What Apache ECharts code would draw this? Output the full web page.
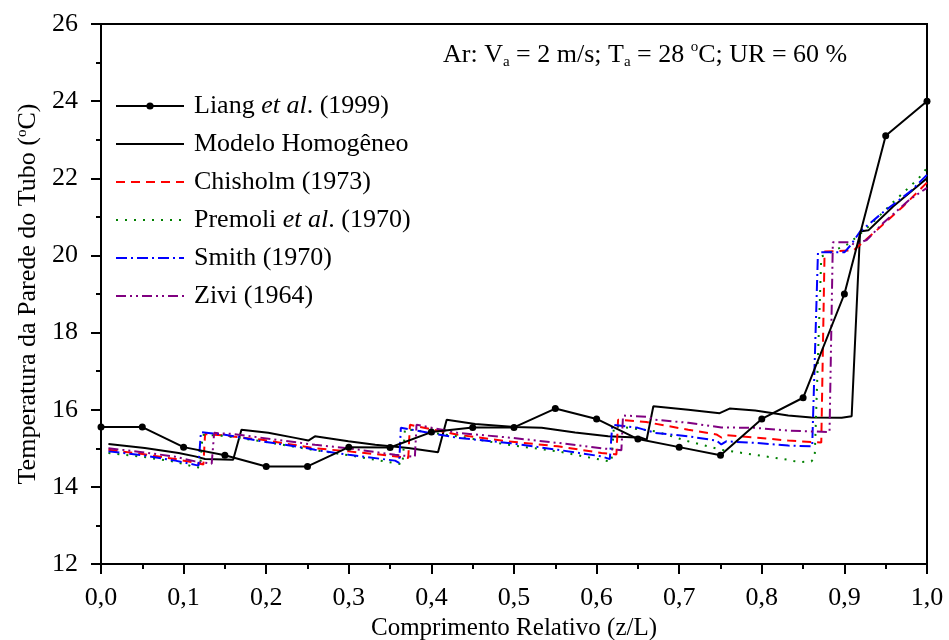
<!DOCTYPE html>
<html>
<head>
<meta charset="utf-8">
<script src="https://cdn.jsdelivr.net/npm/echarts@6/dist/echarts.min.js"></script>
<style>html,body{margin:0;padding:0;background:#fff}#c{width:949px;height:640px}</style>
</head>
<body>
<div id="c"></div>
<script>
// ---- data ----
const xTicks = [0,0.1,0.2,0.3,0.4,0.5,0.6,0.7,0.8,0.9,1.0];
const yTicks = [12,14,16,18,20,22,24,26];

const liangX = [0,0.05,0.1,0.15,0.2,0.25,0.3,0.35,0.4,0.45,0.5,0.55,0.6,0.65,0.7,0.75,0.8,0.85,0.9,0.95,1.0];
const liangY = [15.55,15.55,15.03,14.82,14.53,14.53,15.03,15.02,15.42,15.54,15.54,16.03,15.76,15.24,15.03,14.82,15.76,16.31,19.0,23.1,24.0];

const homoX = [0.009,0.053,0.094,0.114,0.126,0.160,0.170,0.2025,0.235,0.251,0.259,0.2995,0.332,0.372,0.408,0.4185,0.453,0.501,0.5335,0.574,0.614,0.6546,0.6606,0.6687,0.711,0.749,0.761,0.792,0.832,0.860,0.8967,0.9088,0.919,0.929,0.959,1.0];
const homoY = [15.11,15.01,14.88,14.79,14.72,14.70,15.48,15.40,15.27,15.20,15.31,15.18,15.09,15.01,14.90,15.74,15.63,15.55,15.53,15.41,15.31,15.27,15.22,16.09,16.0,15.91,16.03,15.98,15.85,15.80,15.79,15.83,20.62,20.65,21.27,22.0];

const chisX = [0.009,0.05,0.09,0.115,0.124,0.126,0.15,0.195,0.259,0.30,0.332,0.372,0.374,0.432,0.493,0.553,0.606,0.624,0.626,0.66,0.711,0.745,0.751,0.757,0.792,0.832,0.872,0.876,0.911,0.939,0.971,1.0];
const chisY = [14.96,14.85,14.72,14.62,14.58,15.37,15.33,15.22,15.0,14.92,14.85,14.75,15.61,15.35,15.18,15.05,14.88,14.84,15.74,15.68,15.48,15.36,15.28,15.34,15.28,15.2,15.15,20.1,20.13,20.65,21.27,21.89];

const premX = [0.009,0.05,0.09,0.114,0.12,0.123,0.15,0.195,0.259,0.30,0.36,0.365,0.368,0.432,0.493,0.553,0.606,0.618,0.621,0.671,0.711,0.751,0.792,0.832,0.845,0.86,0.864,0.872,0.905,0.93,0.958,0.99,1.0];
const premY = [14.88,14.78,14.65,14.51,14.5,15.35,15.32,15.18,14.95,14.82,14.6,14.58,15.5,15.31,15.09,14.92,14.7,14.65,15.58,15.44,15.18,14.96,14.83,14.7,14.64,14.66,14.75,19.97,20.3,20.76,21.36,22.0,22.27];

const smithX = [0.009,0.05,0.09,0.114,0.118,0.121,0.15,0.195,0.25,0.259,0.30,0.356,0.361,0.363,0.432,0.493,0.553,0.606,0.616,0.619,0.65,0.671,0.711,0.745,0.751,0.757,0.792,0.832,0.861,0.868,0.90,0.907,0.919,0.948,0.98,1.0];
const smithY = [14.92,14.82,14.68,14.57,14.55,15.42,15.35,15.18,15.0,14.96,14.83,14.68,14.62,15.53,15.27,15.14,14.96,14.79,14.72,15.61,15.53,15.4,15.31,15.2,15.1,15.18,15.14,15.07,15.05,20.08,20.08,20.25,20.62,21.14,21.66,22.09];

const ziviX = [0.009,0.05,0.09,0.114,0.134,0.137,0.16,0.195,0.259,0.30,0.356,0.38,0.382,0.432,0.493,0.553,0.606,0.63,0.632,0.66,0.671,0.711,0.751,0.792,0.832,0.882,0.886,0.906,0.912,0.927,0.947,0.979,1.0];
const ziviY = [15.0,14.9,14.78,14.66,14.6,15.4,15.37,15.27,15.09,15.0,14.83,14.78,15.61,15.4,15.28,15.14,15.0,14.95,15.85,15.82,15.74,15.66,15.54,15.53,15.46,15.42,20.34,20.34,20.28,20.4,20.84,21.45,21.75];

const seriesNames = ['Liang et al. (1999)','Modelo Homogêneo','Chisholm (1973)','Premoli et al. (1970)','Smith (1970)','Zivi (1964)'];

// ---- chart ----
const FONT = 'Liberation Serif';
const FS = 26;
const zip = (xs, ys) => xs.map((x, i) => [x, ys[i]]);

const chart = echarts.init(document.getElementById('c'), null, {renderer: 'canvas'});

function lineSeries(name, xs, ys, color, type, extra) {
  return Object.assign({
    name: name,
    type: 'line',
    data: zip(xs, ys),
    symbol: 'none',
    lineStyle: {color: color, width: 2, type: type},
    itemStyle: {color: color},
    animation: false,
    z: 3
  }, extra || {});
}

const legendFmt = {
  'Liang et al. (1999)': '{p|}{n|Liang }{i|et al}{n|. (1999)}',
  'Premoli et al. (1970)': '{p|}{n|Premoli }{i|et al}{n|. (1970)}'
};

chart.setOption({
  backgroundColor: '#fff',
  animation: false,
  grid: {left: 101, right: 22, top: 24, bottom: 76, show: true, borderColor: '#000', borderWidth: 2,
         backgroundColor: 'transparent', containLabel: false, outerBoundsMode: 'none'},
  xAxis: {
    type: 'value', min: 0, max: 1, interval: 0.1,
    axisLine: {show: true, onZero: false, lineStyle: {color: '#000', width: 2}},
    axisTick: {show: true, inside: false, length: 10, lineStyle: {color: '#000', width: 2}},
    minorTick: {show: true, splitNumber: 2, length: 5, lineStyle: {color: '#000', width: 2}},
    splitLine: {show: false},
    axisLabel: {color: '#000', fontFamily: FONT, fontSize: FS, margin: 21,
      formatter: v => v.toFixed(1).replace('.', ',')},
    name: 'Comprimento Relativo (z/L)', nameLocation: 'middle', nameGap: 52,
    nameTextStyle: {color: '#000', fontFamily: FONT, fontSize: 25}
  },
  yAxis: {
    type: 'value', min: 12, max: 26, interval: 2,
    axisLine: {show: true, onZero: false, lineStyle: {color: '#000', width: 2}},
    axisTick: {show: true, inside: false, length: 10, lineStyle: {color: '#000', width: 2}},
    minorTick: {show: true, splitNumber: 2, length: 5, lineStyle: {color: '#000', width: 2}},
    splitLine: {show: false},
    axisLabel: {color: '#000', fontFamily: FONT, fontSize: FS, margin: 23},
    name: '{n|Temperatura da Parede do Tubo (}{s|o}{n|C)}', nameLocation: 'middle', nameGap: 60,
    nameTextStyle: {color: '#000', fontFamily: FONT, fontSize: FS,
      rich: {n: {fontFamily: FONT, fontSize: FS, color: '#000'},
             s: {fontFamily: FONT, fontSize: 15, color: '#000', verticalAlign: 'top', padding: [0, 0, 10, 0]}}}
  },
  legend: {
    orient: 'vertical', left: 115, top: 93, padding: 0,
    itemWidth: 68, itemHeight: 9, itemGap: 12,
    data: seriesNames.map((n, i) => i === 0 ? {name: n} : {name: n, itemStyle: {opacity: 0}}),
    textStyle: {color: '#000', fontFamily: FONT, fontSize: FS,
      rich: {p: {width: 5},
             n: {fontFamily: FONT, fontSize: FS, color: '#000'},
             i: {fontFamily: FONT, fontSize: FS, fontStyle: 'italic', color: '#000'}}},
    formatter: name => legendFmt[name] || ('{p|}{n|' + name + '}')
  },
  graphic: [{
    type: 'text', left: 443, top: 40, z: 10,
    style: {
      text: '{n|Ar: V}{b|a}{n| = 2 m/s; T}{b|a}{n| = 28 }{t|o}{n|C; UR = 60 %}',
      rich: {
        n: {fontFamily: FONT, fontSize: FS, fill: '#000', color: '#000'},
        b: {fontFamily: FONT, fontSize: 15, fill: '#000', color: '#000', verticalAlign: 'bottom', padding: [15, 0, 0, 0]},
        t: {fontFamily: FONT, fontSize: 15, fill: '#000', color: '#000', verticalAlign: 'top', padding: [0, 0, 12, 0]}
      }
    }
  }],
  series: [
    lineSeries(seriesNames[0], liangX, liangY, '#000', 'solid', {symbol: 'circle', symbolSize: 7, showSymbol: true, z: 4}),
    lineSeries(seriesNames[1], homoX, homoY, '#000', 'solid'),
    lineSeries(seriesNames[2], chisX, chisY, '#ff0000', [9, 6]),
    lineSeries(seriesNames[3], premX, premY, '#008000', [2, 7]),
    lineSeries(seriesNames[4], smithX, smithY, '#0000ff', [11, 4, 2, 4]),
    lineSeries(seriesNames[5], ziviX, ziviY, '#800080', [10, 4, 2, 4, 2, 4])
  ]
});
</script>
</body>
</html>
